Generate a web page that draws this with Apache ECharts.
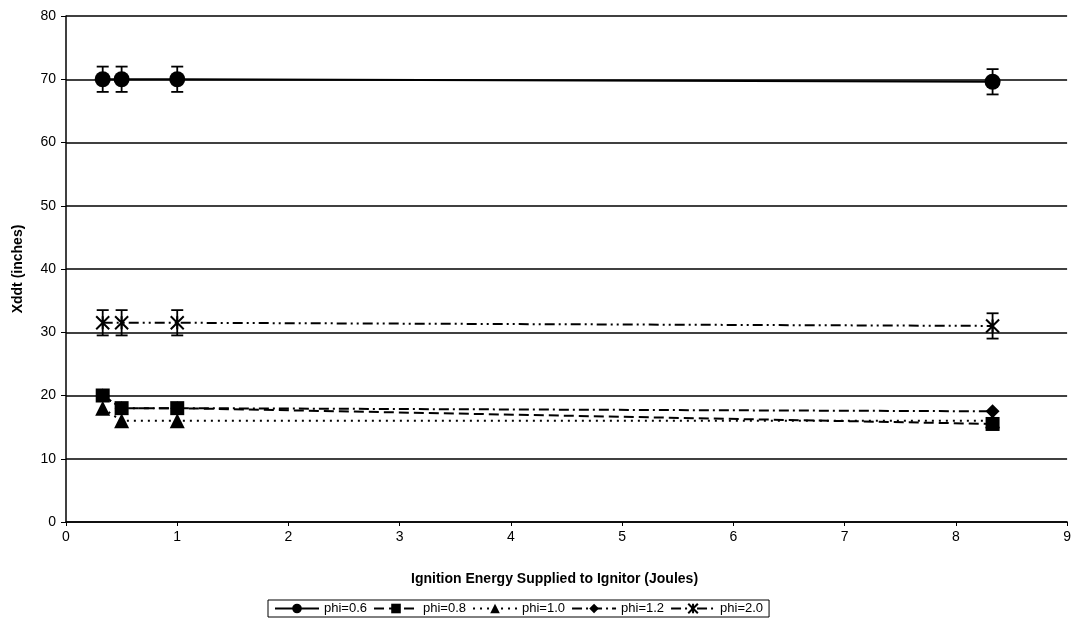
<!DOCTYPE html>
<html lang="en">
<head>
    <meta charset="utf-8">
    <title>Xddt vs Ignition Energy</title>
    <script src="https://cdn.jsdelivr.net/npm/echarts@6/dist/echarts.min.js"></script>
    <style>
        html, body { margin: 0; padding: 0; background: #fff; }
        #main { width: 1074px; height: 628px; }
    </style>
</head>
<body>
    <div id="main"></div>
    <script type="text/javascript">
        // ignition energy (Joules)
        var energy = [0.33, 0.5, 1.0, 8.33];
        // Xddt (inches) for each equivalence ratio
        var phi06 = [70, 70, 70, 69.6];
        var phi08 = [20, 18, 18, 15.5];
        var phi10 = [18, 16, 16, 16];
        var phi12 = [20, 18, 18, 17.5];
        var phi20 = [31.5, 31.5, 31.5, 31];
        // +/- error bars
        var err06 = [2, 2, 2, 2];
        var err20 = [2, 2, 2, 2];

        var names = ['phi=0.6', 'phi=0.8', 'phi=1.0', 'phi=1.2', 'phi=2.0'];
        var font = 'Liberation Sans, Arial, sans-serif';
        var asterisk = 'path://M0,0L10,10M10,0L0,10M5,0L5,10';

        function pairs(ys) {
            return energy.map(function (x, i) { return [x, ys[i]]; });
        }
        function bars(ys, err) {
            return energy.map(function (x, i) { return [x, ys[i] - err[i], ys[i] + err[i]]; });
        }

        function errorBar(params, api) {
            var x = api.value(0);
            var lo = api.coord([x, api.value(1)]);
            var hi = api.coord([x, api.value(2)]);
            var w = 6;
            var st = { stroke: '#000', lineWidth: 1.8 };
            return {
                type: 'group',
                children: [
                    { type: 'line', shape: { x1: lo[0], y1: lo[1], x2: hi[0], y2: hi[1] }, style: st },
                    { type: 'line', shape: { x1: hi[0] - w, y1: hi[1], x2: hi[0] + w, y2: hi[1] }, style: st },
                    { type: 'line', shape: { x1: lo[0] - w, y1: lo[1], x2: lo[0] + w, y2: lo[1] }, style: st }
                ]
            };
        }

        function lineSeries(name, ys, symbol, size, dash, z) {
            return {
                name: name,
                type: 'line',
                data: pairs(ys),
                symbol: symbol,
                symbolSize: size,
                showAllSymbol: true,
                lineStyle: { color: '#000', width: 2, type: dash },
                itemStyle: { color: '#000', borderColor: '#000', borderWidth: symbol === asterisk ? 2 : 0 },
                z: z
            };
        }

        var myChart = echarts.init(document.getElementById('main'));
        var option = {
            animation: false,
            backgroundColor: '#fff',
            textStyle: { fontFamily: font, color: '#000' },
            grid: { left: 66, right: 6, top: 16, bottom: 106 },
            legend: {
                data: names,
                bottom: 11,
                left: 268,
                orient: 'horizontal',
                borderColor: '#000',
                borderWidth: 1,
                borderRadius: 0,
                padding: [2, 6],
                itemWidth: 44,
                itemHeight: 12,
                itemGap: 6,
                textStyle: { fontFamily: font, fontSize: 13, color: '#000' }
            },
            xAxis: {
                type: 'value',
                min: 0,
                max: 9,
                interval: 1,
                name: 'Ignition Energy Supplied to Ignitor (Joules)',
                nameLocation: 'middle',
                nameGap: 50,
                nameTextStyle: { fontFamily: font, fontSize: 14, fontWeight: 'bold', color: '#000', padding: [0, 24, 0, 0] },
                axisLine: { lineStyle: { color: '#000', width: 1.5 } },
                axisTick: { show: true, length: 4, lineStyle: { color: '#000' } },
                axisLabel: { fontFamily: font, fontSize: 14, color: '#000', margin: 8 },
                splitLine: { show: false }
            },
            yAxis: {
                type: 'value',
                min: 0,
                max: 80,
                interval: 10,
                name: 'Xddt (inches)',
                nameLocation: 'middle',
                nameGap: 41,
                nameTextStyle: { fontFamily: font, fontSize: 14, fontWeight: 'bold', color: '#000' },
                axisLine: { show: true, lineStyle: { color: '#000', width: 1.5 } },
                axisTick: { show: true, length: 5, lineStyle: { color: '#000' } },
                axisLabel: { fontFamily: font, fontSize: 14, color: '#000', margin: 10 },
                splitLine: { show: true, lineStyle: { color: '#000', width: 1.5 } }
            },
            series: [
                lineSeries('phi=0.6', phi06, 'circle', 16, 'solid', 3),
                lineSeries('phi=0.8', phi08, 'rect', 14, [10, 5], 5),
                lineSeries('phi=1.0', phi10, 'triangle', 15, [2, 5], 4),
                lineSeries('phi=1.2', phi12, 'diamond', 14, [10, 4, 2, 4], 3),
                lineSeries('phi=2.0', phi20, asterisk, 13, [10, 4, 2, 4, 2, 4], 3),
                { type: 'custom', renderItem: errorBar, data: bars(phi06, err06), z: 6, silent: true },
                { type: 'custom', renderItem: errorBar, data: bars(phi20, err20), z: 6, silent: true }
            ]
        };
        myChart.setOption(option);
    </script>
</body>
</html>
